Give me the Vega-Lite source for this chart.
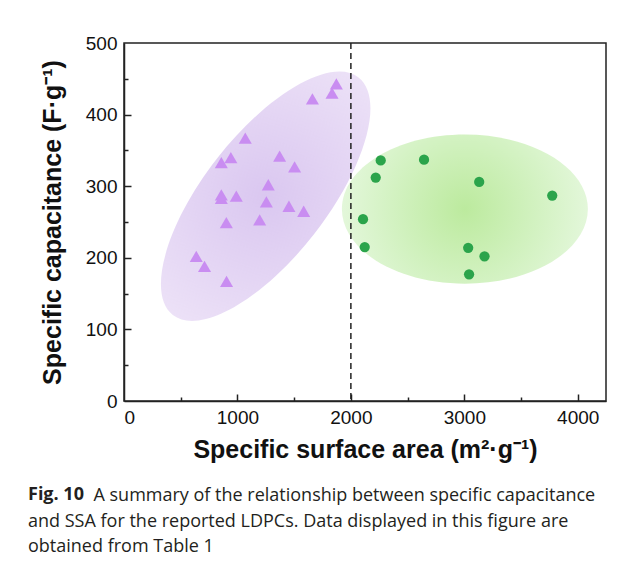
{
  "$schema": "https://vega.github.io/schema/vega-lite/v6.json",
  "autosize": "none",
  "width": 482,
  "height": 358,
  "padding": {"left": 124, "top": 43, "right": 23, "bottom": 160},
  "background": "white",
  "config": {
    "view": {"stroke": "#222", "strokeWidth": 1.5},
    "axis": {
      "grid": false,
      "domainColor": "#222",
      "domainWidth": 1.5,
      "tickColor": "#222",
      "tickWidth": 1.5,
      "labelFont": "Liberation Sans",
      "labelFontSize": 19,
      "labelColor": "#111",
      "titleFont": "Liberation Sans",
      "titleFontSize": 25,
      "titleFontWeight": "bold",
      "titleColor": "#111"
    }
  },
  "datasets": {
    "lit": [
      {"x": 1872, "y": 443}, {"x": 1834, "y": 430}, {"x": 1661, "y": 422},
      {"x": 1069, "y": 367}, {"x": 942, "y": 340}, {"x": 858, "y": 333},
      {"x": 1372, "y": 342}, {"x": 1504, "y": 327}, {"x": 1272, "y": 302},
      {"x": 858, "y": 288}, {"x": 858, "y": 283}, {"x": 990, "y": 286},
      {"x": 1255, "y": 278}, {"x": 1454, "y": 272}, {"x": 1584, "y": 265},
      {"x": 902, "y": 249}, {"x": 1196, "y": 253}, {"x": 637, "y": 202},
      {"x": 710, "y": 188}, {"x": 904, "y": 167}
    ],
    "ldpc": [
      {"x": 2263, "y": 336}, {"x": 2645, "y": 337}, {"x": 2219, "y": 312},
      {"x": 3131, "y": 306}, {"x": 3775, "y": 287}, {"x": 2107, "y": 254},
      {"x": 2122, "y": 215}, {"x": 3034, "y": 214}, {"x": 3178, "y": 202},
      {"x": 3042, "y": 177}
    ],
    "purpleRegion": [{"x": 1249, "y": 286}],
    "greenRegion": [{"x": 3005, "y": 268}],
    "divider": [{"x": 2000}]
  },
  "title": {
    "text": "Fig. 10",
    "subtitle": [
      "\u200b\u00a0\u00a0\u00a0\u00a0\u00a0\u00a0\u00a0\u00a0\u00a0\u00a0\u00a0\u00a0\u00a0\u00a0A summary of the relationship between specific capacitance",
      "and SSA for the reported LDPCs. Data displayed in this figure are",
      "obtained from Table 1"
    ],
    "orient": "bottom",
    "anchor": "start",
    "frame": "group",
    "dx": -96,
    "offset": 24,
    "font": "Open Sans",
    "fontSize": 18,
    "fontWeight": "bold",
    "color": "#231f20",
    "lineHeight": 25.5,
    "subtitleFont": "Open Sans",
    "subtitleFontSize": 18,
    "subtitleFontWeight": "normal",
    "subtitleColor": "#231f20",
    "subtitleLineHeight": 25.5,
    "subtitlePadding": -17
  },
  "resolve": {"axis": {"x": "independent", "y": "independent"}},
  "layer": [
    {
      "data": {"name": "purpleRegion"},
      "mark": {
        "type": "point",
        "shape": "M -1 0 A 1 0.408 0 1 0 1 0 A 1 0.408 0 1 0 -1 0 Z",
        "filled": true,
        "size": 90960,
        "angle": -52,
        "opacity": 1,
        "strokeWidth": 0,
        "fill": {
          "gradient": "radial",
          "x1": 0.5, "y1": 0.5, "x2": 0.5, "y2": 0.5, "r1": 0, "r2": 0.5,
          "stops": [
            {"offset": 0, "color": "#dac7f0"},
            {"offset": 1, "color": "#ece1f7"}
          ]
        }
      },
      "encoding": {
        "x": {"field": "x", "type": "quantitative", "scale": {"domain": [0, 4249], "nice": false},
          "axis": {"orient": "bottom", "values": [1000, 2000, 3000, 4000], "labels": false, "domain": false, "ticks": true, "tickSize": 7, "offset": -7, "title": null}},
        "y": {"field": "y", "type": "quantitative", "scale": {"domain": [0, 500], "nice": false},
          "axis": {"orient": "left", "values": [100, 200, 300, 400], "labels": false, "domain": false, "ticks": true, "tickSize": 7, "offset": -7, "title": null}}
      }
    },
    {
      "data": {"name": "greenRegion"},
      "mark": {
        "type": "point",
        "shape": "M -1 0 A 1 0.606 0 1 0 1 0 A 1 0.606 0 1 0 -1 0 Z",
        "filled": true,
        "size": 60516,
        "opacity": 1,
        "strokeWidth": 0,
        "fill": {
          "gradient": "radial",
          "x1": 0.5, "y1": 0.5, "x2": 0.5, "y2": 0.5, "r1": 0, "r2": 0.5,
          "stops": [
            {"offset": 0, "color": "#bcea9e"},
            {"offset": 0.6, "color": "#d3f2c2"},
            {"offset": 1, "color": "#e3f7da"}
          ]
        }
      },
      "encoding": {
        "x": {"field": "x", "type": "quantitative", "axis": null},
        "y": {"field": "y", "type": "quantitative", "axis": null}
      }
    },
    {
      "data": {"name": "divider"},
      "mark": {"type": "rule", "color": "#222", "strokeWidth": 1.5, "strokeDash": [6, 4]},
      "encoding": {
        "x": {"field": "x", "type": "quantitative", "axis": null}
      }
    },
    {
      "data": {"name": "lit"},
      "mark": {"type": "point", "shape": "triangle-up", "filled": true, "size": 170, "color": "#c98df1", "opacity": 1},
      "encoding": {
        "x": {"field": "x", "type": "quantitative",
          "axis": {"orient": "bottom", "values": [500, 1500, 2500, 3500], "labels": false, "domain": false, "ticks": true, "tickSize": 4, "offset": -4, "title": null}},
        "y": {"field": "y", "type": "quantitative",
          "axis": {"orient": "left", "values": [50, 150, 250, 350, 450], "labels": false, "domain": false, "ticks": true, "tickSize": 4, "offset": -4, "title": null}}
      }
    },
    {
      "data": {"name": "ldpc"},
      "mark": {"type": "circle", "size": 105, "color": "#2ba44b", "opacity": 1},
      "encoding": {
        "x": {"field": "x", "type": "quantitative",
          "axis": {"orient": "bottom", "values": [0, 1000, 2000, 3000, 4000], "format": "d", "ticks": false, "labelPadding": 7,
            "title": "Specific surface area (m²·g⁻¹)", "titlePadding": 10}},
        "y": {"field": "y", "type": "quantitative",
          "axis": {"orient": "left", "values": [0, 100, 200, 300, 400, 500], "format": "d", "ticks": false, "labelPadding": 7,
            "title": "Specific capacitance (F·g⁻¹)", "titlePadding": 20}}
      }
    }
  ]
}
